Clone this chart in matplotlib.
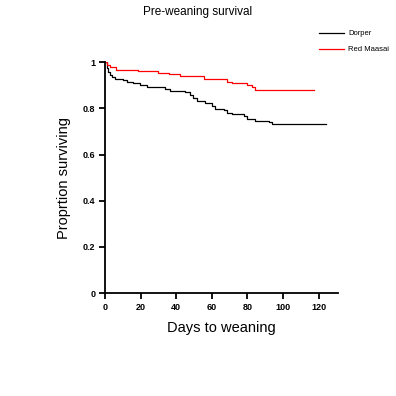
import matplotlib
matplotlib.use("Agg")
from matplotlib import pyplot as plt

plt.rcParams['font.family'] = ['Liberation Sans', 'DejaVu Sans']

# Kaplan-Meier step curves
dorper_days = [0, 1.0, 1.9, 2.8, 3.8, 5.6, 10.3, 12.2, 15.9, 19.7, 23.5, 33.8, 36.6,
               45.1, 47.9, 49.7, 51.7, 56.3, 60.1, 62.0, 66.6, 68.6, 71.4, 77.9,
               79.8, 84.5, 92.0, 93.9, 124.3]
dorper_surv = [1.0, 0.973, 0.958, 0.944, 0.937, 0.929, 0.922, 0.912, 0.908, 0.903,
               0.893, 0.883, 0.876, 0.872, 0.857, 0.843, 0.832, 0.821, 0.811, 0.795,
               0.792, 0.782, 0.775, 0.768, 0.753, 0.746, 0.739, 0.732, 0.732]

maasai_days = [0, 1.3, 2.8, 6.2, 18.8, 30.0, 35.7, 42.3, 55.4, 68.6, 71.4, 79.8,
               82.6, 84.5, 117.4]
maasai_surv = [1.0, 0.987, 0.98, 0.965, 0.961, 0.955, 0.948, 0.939, 0.929, 0.915,
               0.908, 0.9, 0.893, 0.879, 0.879]

x_ticks = [0, 20, 40, 60, 80, 100, 120]
y_ticks = [0, 0.2, 0.4, 0.6, 0.8, 1]
y_labels = ['0', '0.2', '0.4', '0.6', '0.8', '1']

fig = plt.figure(figsize=(3.96, 3.96), dpi=100)
ax = fig.add_axes([0.265, 0.26, 0.589, 0.583])

ax.step(dorper_days, dorper_surv, where='post', color='black', lw=0.9, label='Dorper')
ax.step(maasai_days, maasai_surv, where='post', color='red', lw=0.9, label='Red Maasai')

ax.set_xlim(0, 131)
ax.set_ylim(0, 1)
ax.set_xticks(x_ticks)
ax.set_yticks(y_ticks)
ax.set_yticklabels(y_labels)

for side in ['top', 'right']:
    ax.spines[side].set_visible(False)
for side in ['left', 'bottom']:
    ax.spines[side].set_linewidth(1.3)
ax.tick_params(direction='out', length=4, width=1.3, labelsize=6.5, pad=3)
for lbl in ax.get_xticklabels() + ax.get_yticklabels():
    lbl.set_fontweight('bold')

ax.set_xlabel('Days to weaning', fontsize=10.5, labelpad=7)
ax.set_ylabel('Proprtion surviving', fontsize=10.5, labelpad=8)

fig.text(0.498, 0.985, 'Pre-weaning survival', fontsize=8.5, ha='center', va='top')
fig.legend(loc='upper right', bbox_to_anchor=(1.0, 0.942), frameon=False,
           fontsize=5.5, handlelength=3.2, handletextpad=0.6, labelspacing=1.15)

fig.savefig('out.png', dpi=100)
